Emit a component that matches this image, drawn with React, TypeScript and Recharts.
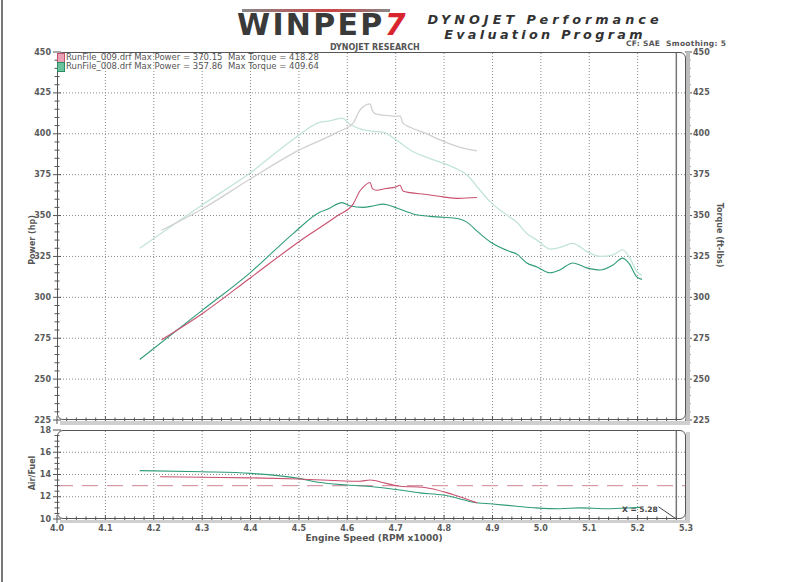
import React from 'react';
import { LineChart, Line, XAxis, YAxis, ReferenceLine } from 'recharts';

// ---- data ----
const rpm008 = [4.171, 4.3, 4.399, 4.488, 4.543, 4.56, 4.589, 4.605, 4.632, 4.655, 4.674, 4.702, 4.736, 4.77, 4.798, 4.83, 4.847, 4.87, 4.895, 4.936, 4.95, 4.971, 4.992, 5.019, 5.039, 5.066, 5.095, 5.122, 5.149, 5.169, 5.184, 5.198, 5.209];
const power008 = [262, 292, 315, 339, 352, 354, 357.9, 356, 355, 356, 357, 354.6, 351, 349.5, 349, 348, 346, 340, 334, 328, 326.5, 321, 318.6, 315, 316.7, 321, 318, 316.7, 319.8, 324, 320, 312.5, 311];
const torque008 = [330, 356.5, 376, 396.5, 407, 407.7, 409.6, 406, 402.5, 401.5, 401, 396, 389, 385, 382, 378, 375, 367, 358.5, 349, 346, 339, 335, 329.5, 330.5, 333, 328, 325, 326, 329, 324, 316, 313.5];

const rpm009 = [4.216, 4.3, 4.4, 4.5, 4.58, 4.612, 4.626, 4.635, 4.647, 4.652, 4.66, 4.68, 4.7, 4.709, 4.715, 4.73, 4.76, 4.798, 4.83, 4.868];
const power009 = [274, 290, 312, 334, 350, 357, 365, 368, 370.2, 366.5, 365.5, 366.5, 367.5, 368.5, 365, 364, 363, 361.4, 360.5, 361];
const torque009 = [341, 354, 372.5, 390, 401, 406.5, 414.5, 417, 418.3, 414, 412, 411.3, 410.7, 411, 406.5, 404, 400.5, 395.5, 392, 389.5];

const afrRpm008 = [4.171, 4.3, 4.4, 4.5, 4.54, 4.6, 4.653, 4.709, 4.75, 4.798, 4.83, 4.86, 4.9, 4.95, 4.99, 5.04, 5.08, 5.136, 5.185, 5.205];
const afr008 = [14.35, 14.25, 14.1, 13.65, 13.3, 13.05, 12.9, 12.6, 12.35, 12.15, 11.85, 11.5, 11.35, 11.15, 11.0, 10.92, 11.0, 10.92, 11.0, 11.05];
const afrRpm009 = [4.213, 4.3, 4.4, 4.5, 4.625, 4.647, 4.68, 4.709, 4.756, 4.818, 4.868];
const afr009 = [13.8, 13.75, 13.7, 13.6, 13.4, 13.5, 13.2, 12.95, 12.86, 12.2, 11.45];

const afrTarget = 13;
const cursorRpm = 5.28;

const legendRows = [
  { name: 'RunFile_009.drf', maxPower: '370.15', maxTorque: '418.28', fill: '#eaa3b5', border: '#c0506e' },
  { name: 'RunFile_008.drf', maxPower: '357.86', maxTorque: '409.64', fill: '#6cc29c', border: '#2f8c68' },
];

// ---- tick lists ----
const range = (a: number, b: number, s: number) => {
  const out: number[] = [];
  const n = Math.round((b - a) / s);
  for (let i = 0; i <= n; i++) out.push(+(a + i * s).toFixed(4));
  return out;
};
const xMinor = range(4.0, 5.3, 0.02);
const xGrid = range(4.1, 5.2, 0.1);
const yMain = range(225, 450, 5);
const yMainGrid = range(250, 425, 25);
const yAfr = range(10, 18, 0.5);
const yAfrGrid = [12, 14, 16];

const mk = (xs: number[], ys: number[]) => xs.map((x, i) => ({ x, y: ys[i] }));

const C009 = '#c9506e';
const C008 = '#2f9c7a';
const T009 = '#d2cfcf';
const T008 = '#c2e4d9';
const FONT = '"DejaVu Sans", Verdana, sans-serif';
const tickText = { fontFamily: FONT, fontSize: 8, fontWeight: 700, fill: '#5a5a5a' } as const;

const isMultiple = (v: number, m: number) => Math.abs(v / m - Math.round(v / m)) < 1e-6;

const LeftTick = (p: any) => {
  const { x, y, payload, step } = p;
  const major = isMultiple(payload.value, step);
  const h = major ? 4 : 2.5;
  return (
    <g>
      <line x1={x - h} x2={x + h} y1={y} y2={y} stroke="#555" />
      {major && (
        <text x={x - 6} y={y} textAnchor="end" dominantBaseline="central" {...tickText}>
          {payload.value}
        </text>
      )}
    </g>
  );
};

const RightTick = (p: any) => {
  const { x, y, payload } = p;
  const major = isMultiple(payload.value, 25);
  const h = major ? 4 : 2.5;
  return (
    <g>
      <line x1={x - 1} x2={x + h + 2} y1={y} y2={y} stroke="#555" />
      {major && (
        <text x={x + 7} y={y} textAnchor="start" dominantBaseline="central" {...tickText}>
          {payload.value}
        </text>
      )}
    </g>
  );
};

const MarkTick = (p: any) => {
  const { x, y, payload } = p;
  const major = isMultiple(payload.value, 0.1);
  const h = major ? 4 : 2.5;
  return <line x1={x} x2={x} y1={y - h} y2={y + h} stroke="#555" />;
};

const BottomTick = (p: any) => {
  const { x, y, payload } = p;
  const major = isMultiple(payload.value, 0.1);
  const h = major ? 4 : 2.5;
  return (
    <g>
      <line x1={x} x2={x} y1={y - h} y2={y + h} stroke="#555" />
      {major && (
        <text x={x} y={y + 9} textAnchor="middle" dominantBaseline="central" {...tickText}>
          {payload.value.toFixed(1)}
        </text>
      )}
    </g>
  );
};

const abs = (l: number, t: number, extra: React.CSSProperties = {}): React.CSSProperties => ({
  position: 'absolute', left: l, top: t, fontFamily: FONT, whiteSpace: 'nowrap', ...extra,
});

export default function App() {
  const gridStroke = '#8a8a8a';
  return (
    <div style={{ position: 'absolute', left: 0, top: 0, width: 800, height: 582, background: '#fff', overflow: 'hidden' }}>
      {/* scan edge */}
      <div style={{ position: 'absolute', left: 1, top: 0, width: 2, height: 582, background: '#777' }} />

      {/* header */}
      <div style={{ position: 'absolute', left: 242, top: 9, width: 148, height: 3, background: 'linear-gradient(90deg,#888,#c44 60%,#888)' }} />
      <div style={abs(237, 12, { fontFamily: '"DejaVu Sans", sans-serif', fontWeight: 900, fontSize: 30, color: '#3a3a3a', lineHeight: '26px', height: 26, letterSpacing: 2.3 })}>
        WINPEP<span style={{ color: '#d9262e', fontStyle: 'italic', letterSpacing: 0 }}>7</span>
      </div>
      <div style={abs(420, 12, { width: 250, textAlign: 'center', fontWeight: 700, fontStyle: 'italic', fontSize: 12.8, color: '#333', lineHeight: '15px' })}>
        <span style={{ letterSpacing: 4.0 }}>DYNOJET Performance</span>
        <br />
        <span style={{ letterSpacing: 3.3 }}>Evaluation Program</span>
      </div>
      <div style={abs(330, 43, { fontWeight: 700, fontSize: 8, color: '#555', lineHeight: '9px', height: 9 })}>DYNOJET RESEARCH</div>
      <div style={abs(626, 39, { fontWeight: 700, fontSize: 7.5, color: '#555', lineHeight: '9px', letterSpacing: 0.3 })}>CF: SAE&nbsp; Smoothing: 5</div>

      {/* main chart */}
      <div style={{ position: 'absolute', left: 0, top: 0 }}>
        <LineChart width={800} height={430} margin={{ top: 52, right: 64, bottom: 0, left: 0 }}>
          <XAxis type="number" dataKey="x" domain={[4.0, 5.3]} ticks={xMinor} interval={0} height={10}
            axisLine={false} tickLine={false} tickSize={0} tickMargin={0} tick={<MarkTick />} allowDataOverflow />
          <YAxis yAxisId="left" type="number" domain={[225, 450]} ticks={yMain} interval={0} width={57}
            axisLine={false} tickLine={false} tickSize={0} tickMargin={0} tick={<LeftTick step={25} />} allowDataOverflow />
          <YAxis yAxisId="right" orientation="right" type="number" domain={[225, 450]} ticks={yMain} interval={0} width={50}
            axisLine={false} tickLine={false} tickSize={0} tickMargin={0} tick={<RightTick />} allowDataOverflow />
          {xGrid.map((v) => (
            <ReferenceLine key={'gx' + v} yAxisId="left" x={v} stroke={gridStroke} strokeDasharray="1 2" />
          ))}
          {yMainGrid.map((v) => (
            <ReferenceLine key={'gy' + v} yAxisId="left" y={v} stroke={gridStroke} strokeDasharray="1 2" />
          ))}
          <ReferenceLine yAxisId="left" x={cursorRpm} stroke="#777" strokeWidth={1.5} />
          <Line yAxisId="right" data={mk(rpm008, torque008)} dataKey="y" type="monotone" stroke={T008} strokeWidth={1.3} dot={false} isAnimationActive={false} />
          <Line yAxisId="right" data={mk(rpm009, torque009)} dataKey="y" type="monotone" stroke={T009} strokeWidth={1.3} dot={false} isAnimationActive={false} />
          <Line yAxisId="left" data={mk(rpm008, power008)} dataKey="y" type="monotone" stroke={C008} strokeWidth={1.1} dot={false} isAnimationActive={false} />
          <Line yAxisId="left" data={mk(rpm009, power009)} dataKey="y" type="monotone" stroke={C009} strokeWidth={1.1} dot={false} isAnimationActive={false} />
        </LineChart>
      </div>
      {/* main frame + axis bars */}
      <div style={{ position: 'absolute', left: 686, top: 52, width: 4, height: 370, background: '#bdbdbd' }} />
      <div style={{ position: 'absolute', left: 60, top: 421, width: 630, height: 4, background: '#cfcfcf' }} />
      <div style={{ position: 'absolute', left: 57, top: 52, width: 629, height: 368, border: '1px solid #555', borderRadius: 6, boxSizing: 'border-box' }} />

      {/* legend */}
      {legendRows.map((r, i) => (
        <div key={r.name} style={abs(57, 53 + i * 9, { fontSize: 8.5, color: '#555', lineHeight: '9px', height: 9 })}>
          <span style={{ position: 'absolute', left: 0, top: 0, width: 6, height: 8, background: r.fill, border: `1px solid ${r.border}` }} />
          <span style={{ position: 'absolute', left: 9, top: 0 }}>{`${r.name} Max Power = ${r.maxPower}`}</span>
          <span style={{ position: 'absolute', left: 171, top: 0 }}>{`Max Torque = ${r.maxTorque}`}</span>
        </div>
      ))}

      {/* axis titles */}
      <div style={abs(32, 240, { fontSize: 8, fontWeight: 700, color: '#555', transform: 'translate(-50%,-50%) rotate(-90deg)' })}>Power (hp)</div>
      <div style={abs(719, 235, { fontSize: 8, fontWeight: 700, color: '#555', transform: 'translate(-50%,-50%) rotate(90deg)' })}>Torque (ft-lbs)</div>
      <div style={abs(32, 473, { fontSize: 8, fontWeight: 700, color: '#555', transform: 'translate(-50%,-50%) rotate(-90deg)' })}>Air/Fuel</div>

      {/* air/fuel chart */}
      <div style={{ position: 'absolute', left: 0, top: 420 }}>
        <LineChart width={800} height={129} margin={{ top: 10, right: 114, bottom: 0, left: 0 }}>
          <XAxis type="number" dataKey="x" domain={[4.0, 5.3]} ticks={xMinor} interval={0} height={30}
            axisLine={false} tickLine={false} tickSize={0} tickMargin={0} tick={<BottomTick />} allowDataOverflow />
          <YAxis type="number" domain={[10, 18]} ticks={yAfr} interval={0} width={57}
            axisLine={false} tickLine={false} tickSize={0} tickMargin={0} tick={<LeftTick step={2} />} allowDataOverflow />
          {xGrid.map((v) => (
            <ReferenceLine key={'ax' + v} x={v} stroke={gridStroke} strokeDasharray="1 2" />
          ))}
          {yAfrGrid.map((v) => (
            <ReferenceLine key={'ay' + v} y={v} stroke={gridStroke} strokeDasharray="1 2" />
          ))}
          <ReferenceLine y={afrTarget} stroke="#d89aa6" strokeWidth={1.2} strokeDasharray="16 9" />
          <ReferenceLine x={cursorRpm} stroke="#777" strokeWidth={1.5} />
          <ReferenceLine segment={[{ x: 5.243, y: 11.1 }, { x: cursorRpm, y: 10 }]} stroke="#444" />
          <Line data={mk(afrRpm008, afr008)} dataKey="y" type="monotone" stroke={C008} strokeWidth={1.1} dot={false} isAnimationActive={false} />
          <Line data={mk(afrRpm009, afr009)} dataKey="y" type="monotone" stroke={C009} strokeWidth={1.1} dot={false} isAnimationActive={false} />
        </LineChart>
      </div>
      <div style={{ position: 'absolute', left: 686, top: 432, width: 4, height: 90, background: '#cfcfcf' }} />
      <div style={{ position: 'absolute', left: 60, top: 520, width: 630, height: 3, background: '#cfcfcf' }} />
      <div style={{ position: 'absolute', left: 57, top: 430, width: 629, height: 89, border: '1px solid #555', borderRadius: 6, boxSizing: 'border-box' }} />
      <div style={abs(622, 505, { fontSize: 7.5, fontWeight: 700, color: '#444', lineHeight: '9px' })}>X = 5.28</div>
      <div style={abs(374, 538, { fontSize: 9, fontWeight: 700, color: '#555', transform: 'translate(-50%,-50%)' })}>Engine Speed (RPM x1000)</div>
    </div>
  );
}
